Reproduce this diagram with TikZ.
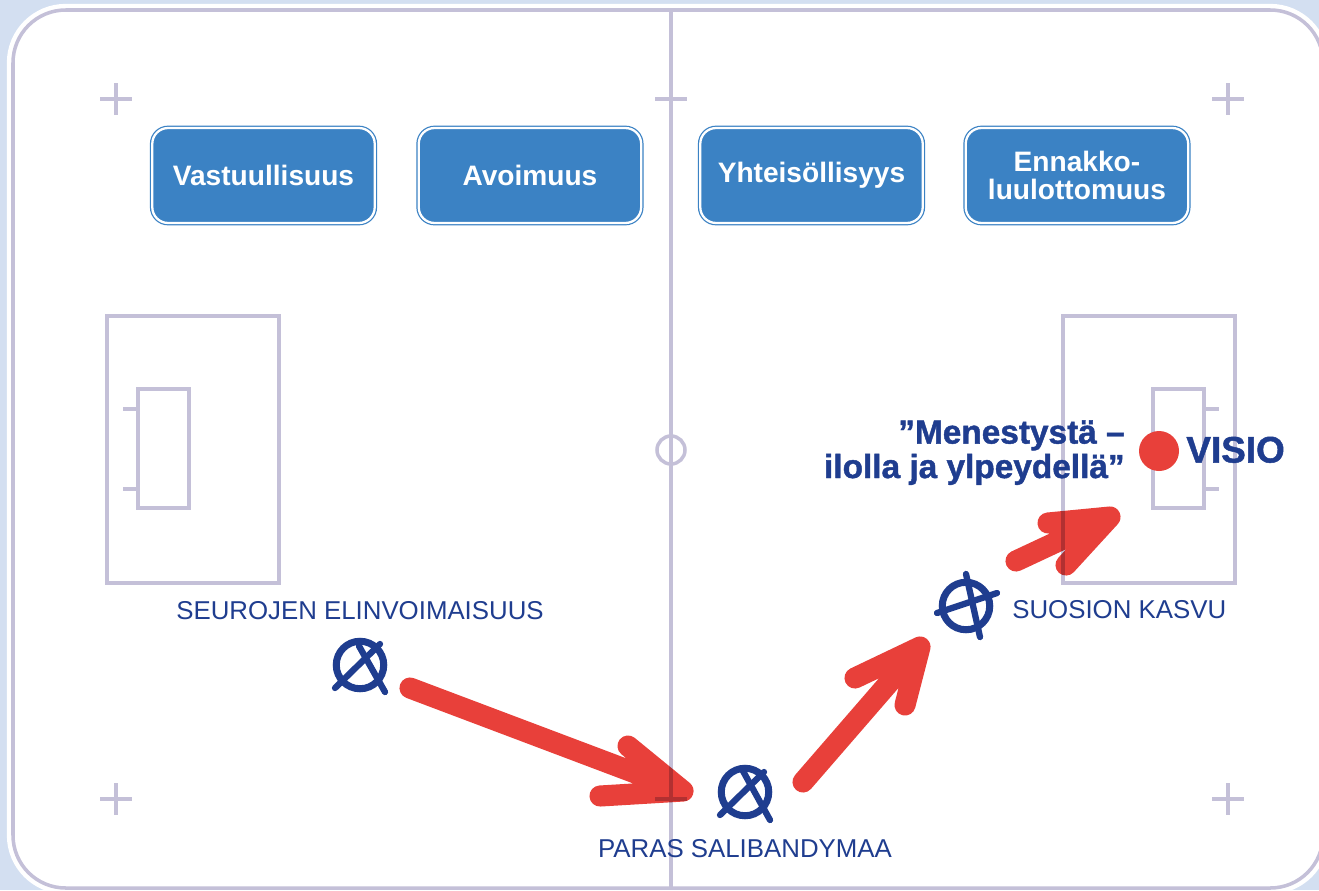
\documentclass[tikz,border=0pt]{standalone}
\usepackage{fontspec}
\setmainfont{Liberation Sans}
\setsansfont{Liberation Sans}
\newfontfamily\heavysans[FakeBold=1.3]{Liberation Sans Bold}
\usetikzlibrary{positioning}
\definecolor{bgblue}{HTML}{D3DFF1}
\definecolor{rinkgray}{HTML}{C4C0D8}
\definecolor{boxblue}{HTML}{3B82C4}
\definecolor{navy}{HTML}{1F3D8F}
\definecolor{arrowred}{HTML}{E8403A}

\begin{document}
\begin{tikzpicture}[
  x=0.02cm, y=-0.02cm,
  every node/.style={font=\sffamily, align=center},
  rinkline/.style={draw=rinkgray, line width=2pt},
  valuebox/.style={draw=boxblue, double=white, double distance=1.3pt, line width=0.7pt,
    fill=boxblue, rounded corners=9pt, minimum width=4.45cm, minimum height=1.9cm,
    outer sep=0pt, text=white, font=\sffamily\bfseries\fontsize{16pt}{16pt}\selectfont},
  spot/.style={circle, draw=navy, line width=4pt, inner sep=0pt, minimum size=0.95cm},
  spotline/.style={draw=navy, line width=3.6pt, line cap=round},
  spotlabel/.style={text=navy, inner sep=0pt, font=\sffamily\fontsize{14.7pt}{16pt}\selectfont},
  redstroke/.style={draw=arrowred, line width=12pt, line cap=round, line join=round}
]
\useasboundingbox (0,0) rectangle (1319,890);
\fill[bgblue] (0,0) rectangle (1319,890);

% Rink
\draw[white, line width=7pt, rounded corners=30pt] (13,10) rectangle (1323,888);
\draw[rinkline, fill=white, rounded corners=30pt] (13,10) rectangle (1323,888);
\draw[rinkline] (671,10) -- (671,888);
\draw[rinkline] (671,450) circle (14);
\foreach \cx in {116,671,1228}
  \foreach \cy in {99,799}
    \draw[rinkline] (\cx-16,\cy) -- (\cx+16,\cy) (\cx,\cy-16) -- (\cx,\cy+16);
% Goal areas
\draw[rinkline] (107,316) rectangle (279,583);
\draw[rinkline] (138,389) rectangle (189,508);
\draw[rinkline] (123,409) -- (138,409) (123,489) -- (138,489);
\draw[rinkline] (1063,316) rectangle (1235,583);
\draw[rinkline] (1153,389) rectangle (1204,508);
\draw[rinkline] (1204,409) -- (1219,409) (1204,489) -- (1219,489);

% Values
\node[valuebox] (vastuu) at (263.5,175.5) {Vastuullisuus};
\node[valuebox, right=0.88cm of vastuu] (avoimuus) {Avoimuus};
\node[valuebox] (yhteiso) at (811.5,175.5) {Yhteisöllisyys};
\node[valuebox, right=0.86cm of yhteiso] (ennakko) {Ennakko-\\luulottomuus};

% Spots
\node[spot] (seura) at (360,665) {};
\draw[spotline] ([shift={(20,-21)}]seura.center) -- ([shift={(-25,23)}]seura.center);
\draw[spotline] ([shift={(-1,-19)}]seura.center) -- ([shift={(25,27)}]seura.center);
\node[spot] (paras) at (745,792) {};
\draw[spotline] ([shift={(19,-20)}]paras.center) -- ([shift={(-25,23)}]paras.center);
\draw[spotline] ([shift={(-2,-21)}]paras.center) -- ([shift={(25,28)}]paras.center);
\node[spot] (suosio) at (966,606) {};
\draw[spotline] ([shift={(0,-32)}]suosio.center) -- ([shift={(14,31)}]suosio.center);
\draw[spotline] ([shift={(-29,7)}]suosio.center) -- ([shift={(31,-13)}]suosio.center);
\node[circle, fill=arrowred, inner sep=0pt, minimum size=0.8cm] (visio) at (1159,451) {};

% Labels
\node[spotlabel, anchor=base] (seuralabel) at (360,619) {SEUROJEN ELINVOIMAISUUS};
\node[spotlabel, anchor=base] (paraslabel) at (745,857) {PARAS SALIBANDYMAA};
\node[spotlabel, anchor=base west] (suosiolabel) at (1012,618) {SUOSION KASVU};
\node[text=navy, inner sep=0pt, anchor=base west, font=\heavysans\fontsize{21pt}{21pt}\selectfont]
  (visiolabel) at (1186,462.5) {VISIO};
\node[text=navy, inner sep=0pt, anchor=base east, align=right,
  font=\heavysans\fontsize{19pt}{19.6pt}\selectfont]
  (motto) at (1125,478) {”Menestystä –\\ilolla ja ylpeydellä”};

% Arrows
\coordinate (from1) at (410,688);
\coordinate (to1) at (683,791);
\coordinate (from2) at (803,782);
\coordinate (to2) at (920,647);
\coordinate (from3) at (1016,561);
\coordinate (to3) at (1110,517);
\begin{scope}[blend mode=multiply]
\draw[redstroke] (from1) -- (to1) (628,746) -- (to1) -- (600,796);
\draw[redstroke] (from2) -- (to2) (855,678) -- (to2) -- (905,705);
\draw[redstroke] (from3) -- (to3) (1048,523) -- (to3) -- (1066,565);
\end{scope}
\end{tikzpicture}
\end{document}
